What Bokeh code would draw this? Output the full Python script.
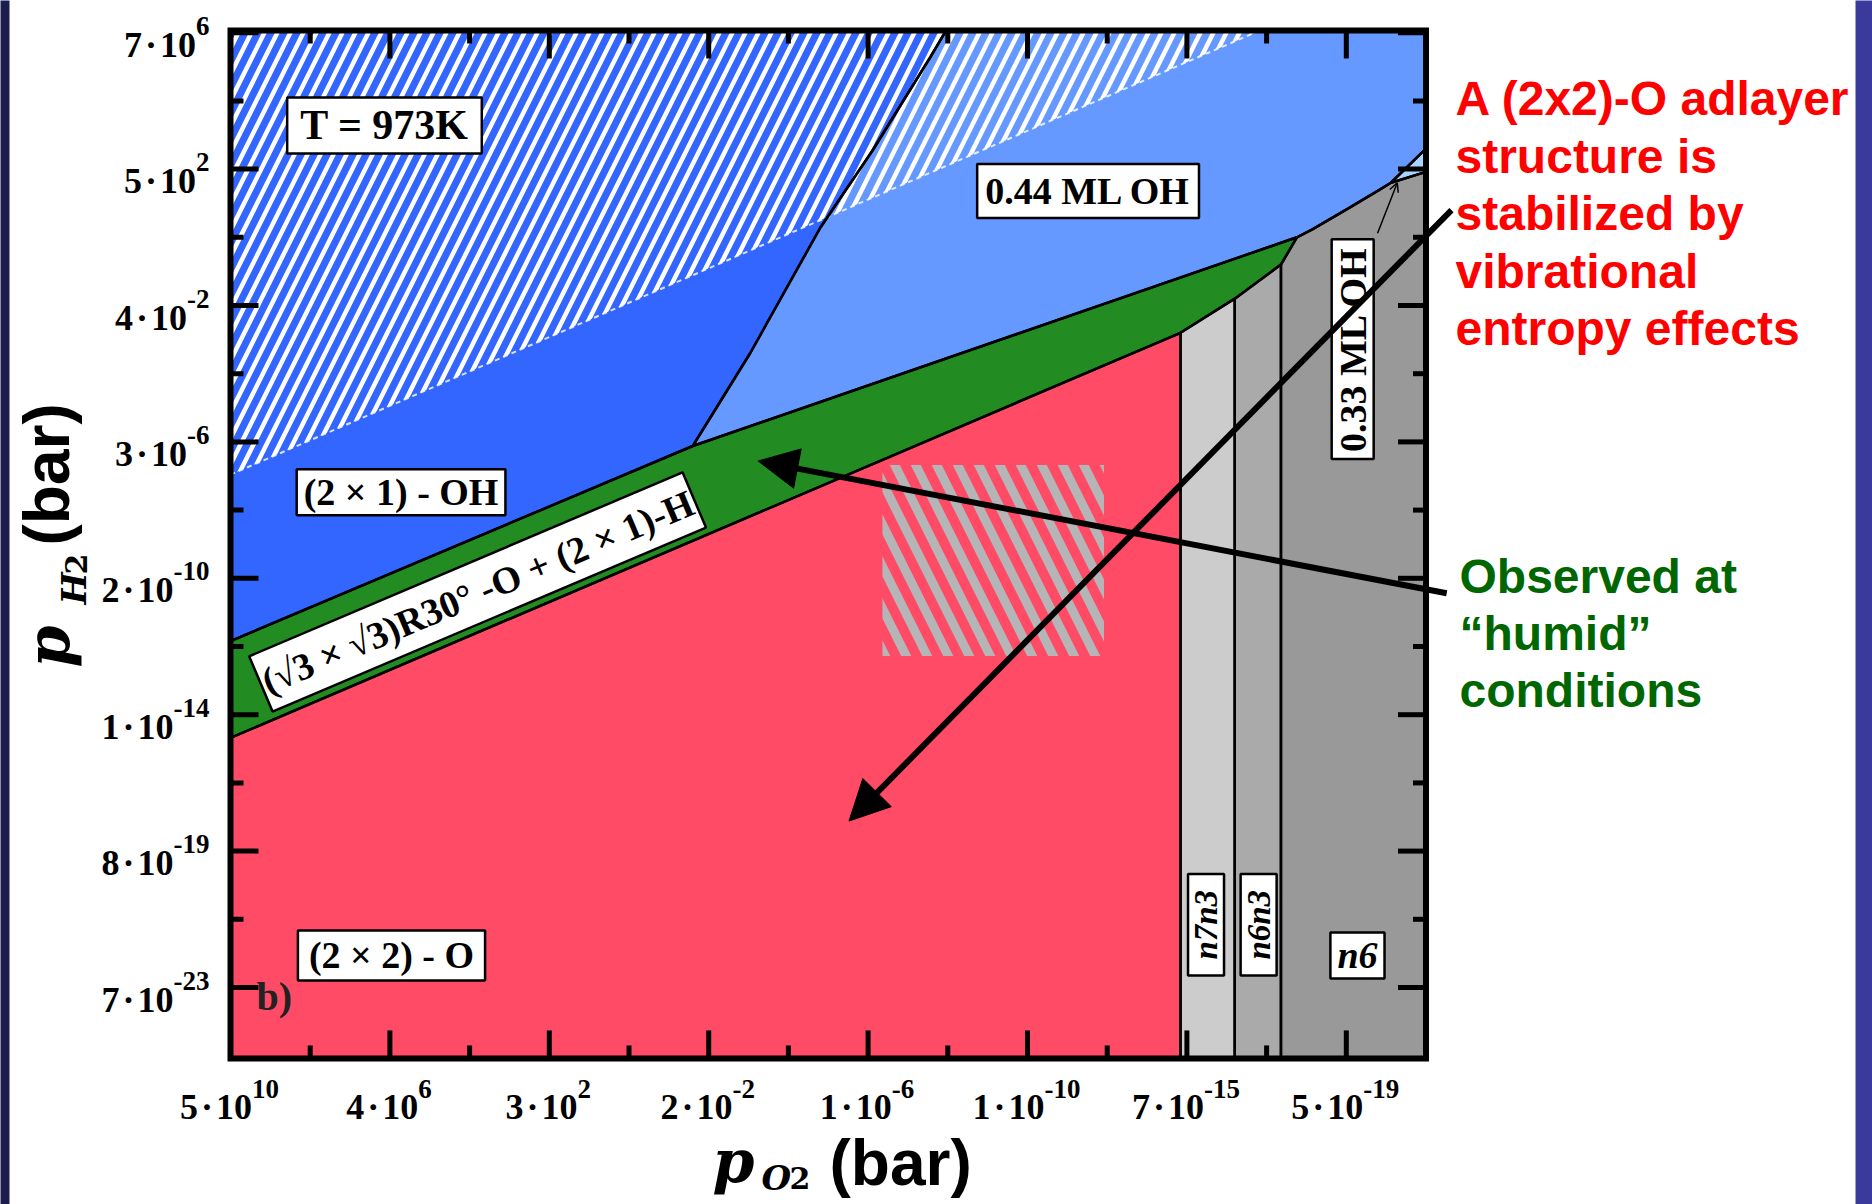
import math
from bokeh.plotting import figure
from bokeh.models import Range1d, Label, Arrow, NormalHead, OpenHead, ColumnDataSource
from bokeh.embed import file_html
from bokeh.resources import INLINE
from bokeh.core.properties import value

# ---------------- data (axis units = tick index) ----------------
XMIN, XMAX = 0.0, 7.5
YMIN, YMAX = -0.52, 7.017

x_ticks = [0, 1, 2, 3, 4, 5, 6, 7]
x_minor = [0.5, 1.5, 2.5, 3.5, 4.5, 5.5, 6.5]
x_tick_mant = ["5", "4", "3", "2", "1", "1", "7", "5"]
x_tick_exp = ["10", "6", "2", "-2", "-6", "-10", "-15", "-19"]
y_ticks = [0, 1, 2, 3, 4, 5, 6, 7]
y_minor = [0.5, 1.5, 2.5, 3.5, 4.5, 5.5, 6.5]
y_tick_mant = ["7", "8", "1", "2", "3", "4", "5", "7"]
y_tick_exp = ["-23", "-19", "-14", "-10", "-6", "-2", "2", "6"]

phase_names = ["(2x2)-O", "sqrt3-O+(2x1)-H", "(2x1)-OH", "0.44 ML OH",
               "0.33 ML OH", "n7n3", "n6n3", "n6"]
phase_colors = ["#ff4b65", "#228b22", "#3366ff", "#6699ff",
                "#a8d4ff", "#cccccc", "#aaaaaa", "#999999"]
phase_xs = [
    [0, 0, 5.96, 5.96],
    [0, 0, 2.90, 6.69, 6.59, 6.30, 5.96],
    [0, 0, 4.49, 4.39, 4.03, 3.70, 3.26, 2.90],
    [2.90, 3.26, 3.70, 4.03, 4.39, 4.49, 7.5, 7.5, 7.28, 7.21, 7.01, 6.79, 6.69],
    [7.28, 7.5, 7.5],
    [5.96, 5.96, 6.30, 6.30],
    [6.30, 6.30, 6.59, 6.59],
    [6.59, 6.59, 6.69, 6.79, 7.01, 7.21, 7.28, 7.5, 7.5],
]
phase_ys = [
    [YMIN, 1.83, 4.80, YMIN],
    [1.83, 2.54, 3.97, 5.50, 5.30, 5.05, 4.80],
    [2.54, YMAX, YMAX, 6.82, 6.14, 5.57, 4.65, 3.97],
    [3.97, 4.65, 5.57, 6.14, 6.82, YMAX, YMAX, 6.15, 5.90, 5.85, 5.71, 5.56, 5.50],
    [5.90, 6.15, 5.98],
    [YMIN, 4.80, 5.05, YMIN],
    [YMIN, 5.05, 5.30, YMIN],
    [YMIN, 5.30, 5.50, 5.56, 5.71, 5.85, 5.90, 5.98, YMIN],
]

hatch_x = [0, 0, 6.46]
hatch_y = [3.76, YMAX, YMAX]
humid_x = [4.09, 5.48]
humid_y = [2.43, 3.83]

# ---------------- canvas / scales ----------------
W, H = 1872, 1204
PXX, PXY = 159.4, 136.4            # pixels per axis unit
ORX, ORY = 230.0, 987.0            # canvas pixel of (0, 0)  (x right, y down)
XL, XR = -ORX / PXX, (W - ORX) / PXX
YT, YB = ORY / PXY, -(H - ORY) / PXY
def px_x(X):   # canvas pixel -> x units (used only for placing texts)
    return (X - ORX) / PXX
def px_y(Y):
    return (ORY - Y) / PXY

p = figure(width=W, height=H, x_range=Range1d(XL, XR), y_range=Range1d(YB, YT),
           output_backend="svg", toolbar_location=None,
           x_axis_type=None, y_axis_type=None, min_border=0)
p.grid.visible = False
p.outline_line_color = None
p.background_fill_color = "white"
p.border_fill_color = "white"

src = ColumnDataSource(dict(xs=phase_xs, ys=phase_ys, color=phase_colors, name=phase_names))
p.patches("xs", "ys", source=src, fill_color="color", line_color=None)

p.patch(hatch_x, hatch_y, fill_alpha=0, line_color=None, hatch_pattern="/",
        hatch_color="white", hatch_scale=26, hatch_weight=4.5)
p.line([hatch_x[0], hatch_x[2]], [hatch_y[0], hatch_y[2]], line_color="white",
       line_width=2, line_dash="5 4", line_alpha=0.8)

p.quad(left=humid_x[0], right=humid_x[1], bottom=humid_y[0], top=humid_y[1],
       fill_alpha=0, line_color=None, hatch_pattern="\\", hatch_color="#b5b5b8",
       hatch_scale=42, hatch_weight=9)

p.patches("xs", "ys", source=src, fill_color=None, line_color="black", line_width=2.5)

# ---------------- axes (ticks on all four sides, pointing in) ----------------
MAJ, MIN = 28, 13
def seg_bottom_top(ticks, length):
    dy = length / PXY
    x0 = ticks + ticks
    y0 = [YMIN] * len(ticks) + [YMAX] * len(ticks)
    y1 = [YMIN + dy] * len(ticks) + [YMAX - dy] * len(ticks)
    return x0, y0, x0, y1
def seg_left_right(ticks, length):
    dx = length / PXX
    y0 = ticks + ticks
    x0 = [XMIN] * len(ticks) + [XMAX] * len(ticks)
    x1 = [XMIN + dx] * len(ticks) + [XMAX - dx] * len(ticks)
    return x0, y0, x1, y0

for tk, ln in ((x_ticks, MAJ), (x_minor, MIN)):
    a, b, c, d = seg_bottom_top(tk, ln)
    p.segment(a, b, c, d, line_color="black", line_width=5, line_cap="butt")
for tk, ln in ((y_ticks, MAJ), (y_minor, MIN)):
    a, b, c, d = seg_left_right(tk, ln)
    p.segment(a, b, c, d, line_color="black", line_width=5, line_cap="butt")

p.quad(left=XMIN, right=XMAX, bottom=YMIN, top=YMAX, fill_color=None,
       line_color="black", line_width=6, line_join="miter")

# tick labels: mantissa·10 with raised exponent
BASE_FS, EXP_FS, BASE_W = 36, 27, 70.0
HS = "\u200a"
def exp_w(s):
    return sum(0.333 if ch == "-" else 0.5 for ch in s) * EXP_FS

xb_x, xb_y, xb_t, xe_x, xe_y, xe_t = [], [], [], [], [], []
for t, m, e in zip(x_ticks, x_tick_mant, x_tick_exp):
    anchor = t + (BASE_W - exp_w(e)) / 2 / PXX
    xb_x.append(anchor); xb_y.append(px_y(1106)); xb_t.append(m + HS + "·" + HS + "10")
    xe_x.append(anchor); xe_y.append(px_y(1088)); xe_t.append(e)

yb_x, yb_y, yb_t, ye_x, ye_y, ye_t = [], [], [], [], [], []
for t, m, e in zip(y_ticks, y_tick_mant, y_tick_exp):
    xr = XMIN - 21 / PXX
    yb_x.append(xr - exp_w(e) / PXX); yb_y.append(t - 12 / PXY); yb_t.append(m + HS + "·" + HS + "10")
    ye_x.append(xr); ye_y.append(t + 7 / PXY); ye_t.append(e)

serif = value("Liberation Serif")
for xs_, ys_, ts_, fs, al in ((xb_x, xb_y, xb_t, BASE_FS, "right"),
                              (xe_x, xe_y, xe_t, EXP_FS, "left"),
                              (yb_x, yb_y, yb_t, BASE_FS, "right"),
                              (ye_x, ye_y, ye_t, EXP_FS, "right")):
    p.text(x=xs_, y=ys_, text=ts_, text_font=serif, text_font_style="bold",
           text_font_size="%dpx" % fs, text_align=al, text_baseline="middle",
           text_color="black")

# ---------------- boxed labels (padding = (along text, across text)) ----------------
def box_label(x, y, text, size="38px", angle=0.0, style="bold", pad=(6, 3)):
    p.add_layout(Label(x=x, y=y, text=text, text_font="Liberation Serif",
                       text_font_style=style, text_font_size=size, text_color="black",
                       text_align="center", text_baseline="middle", angle=angle,
                       background_fill_color="white", border_line_color="black",
                       border_line_width=2.5, padding=pad))

box_label(0.966, 6.32, "T = 973K", size="42px", pad=(13, 5))
box_label(5.38, 5.84, "0.44 ML OH", pad=(8, 6))
box_label(1.07, 3.63, "(2 × 1) - OH", pad=(7, 2))
box_label(1.01, 0.235, "(2 × 2) - O", pad=(11, 4))
box_label(1.55, 2.90, "(√3 × √3)R30° -O + (2 × 1)-H", angle=math.radians(23.0), pad=(3, 9))
box_label(6.12, 0.46, "n7n3", size="33px", angle=math.pi / 2, style="bold italic", pad=(16, 0))
box_label(6.45, 0.46, "n6n3", size="33px", angle=math.pi / 2, style="bold italic", pad=(16, 0))
box_label(7.07, 0.235, "n6", size="38px", style="bold italic", pad=(7, 2))
box_label(7.04, 4.68, "0.33 ML OH", angle=math.pi / 2, pad=(7, 0))

p.add_layout(Label(x=px_x(256), y=px_y(996), text="b)", text_font="Liberation Serif",
                   text_font_style="bold", text_font_size="40px", text_color="#222222",
                   text_baseline="middle"))

p.add_layout(Arrow(x_start=7.196, y_start=5.53, x_end=7.32, y_end=5.90,
                   line_width=1.5, line_color="black",
                   end=OpenHead(size=9, line_width=1.5, line_color="black")))

# ---------------- annotations on the right ----------------
p.add_layout(Arrow(x_start=7.66, y_start=5.70, x_end=3.88, y_end=1.22,
                   line_width=6, line_color="black",
                   end=NormalHead(size=40, fill_color="black", line_color="black")))
p.add_layout(Arrow(x_start=7.63, y_start=2.89, x_end=3.31, y_end=3.86,
                   line_width=6, line_color="black",
                   end=NormalHead(size=40, fill_color="black", line_color="black")))

red_lines = ["A (2x2)-O adlayer", "structure is", "stabilized by", "vibrational",
             "entropy effects"]
red_Y = [98, 155.6, 213.2, 270.8, 328.4]
for t, Y in zip(red_lines, red_Y):
    p.add_layout(Label(x=px_x(1455), y=px_y(Y), text=t, text_font="Liberation Sans",
                       text_font_style="bold", text_font_size="48px",
                       text_color="#ff0000", text_baseline="middle"))

green_lines = ["Observed at", "“humid”", "conditions"]
green_Y = [575.5, 632.8, 690.1]
for t, Y in zip(green_lines, green_Y):
    p.add_layout(Label(x=px_x(1459), y=px_y(Y), text=t, text_font="Liberation Sans",
                       text_font_style="bold", text_font_size="48px",
                       text_color="#006600", text_baseline="middle"))

# ---------------- axis titles ----------------
def piece(X, Y, text, font, style, size, angle=0.0):
    p.add_layout(Label(x=px_x(X), y=px_y(Y), text=text, text_font=font,
                       text_font_style=style, text_font_size=size, text_color="black",
                       angle=angle, text_align="left", text_baseline="middle"))

piece(712, 1160, "p", "DejaVu Serif", "bold italic", "60px")
piece(761, 1177, "O", "DejaVu Serif", "bold italic", "34px")
piece(789, 1177, "2", "DejaVu Serif", "bold", "30px")
piece(829, 1162, "(bar)", "Liberation Sans", "bold", "64px")

piece(47, 667, "p", "DejaVu Serif", "bold italic", "60px", angle=math.pi / 2)
piece(73, 604, "H", "DejaVu Serif", "bold italic", "34px", angle=math.pi / 2)
piece(75, 574, "2", "DejaVu Serif", "bold", "30px", angle=math.pi / 2)
piece(46, 545, "(bar)", "Liberation Sans", "bold", "64px", angle=math.pi / 2)

# slide frame strips
p.quad(left=px_x(1855), right=XR + 1, bottom=YB - 1, top=YT + 1,
       fill_color="#3a3a9c", line_color=None)
p.quad(left=XL - 1, right=px_x(9), bottom=YB - 1, top=YT + 1,
       fill_color="#1c1c4e", line_color=None)

open("out.html", "w").write(file_html(p, INLINE))
